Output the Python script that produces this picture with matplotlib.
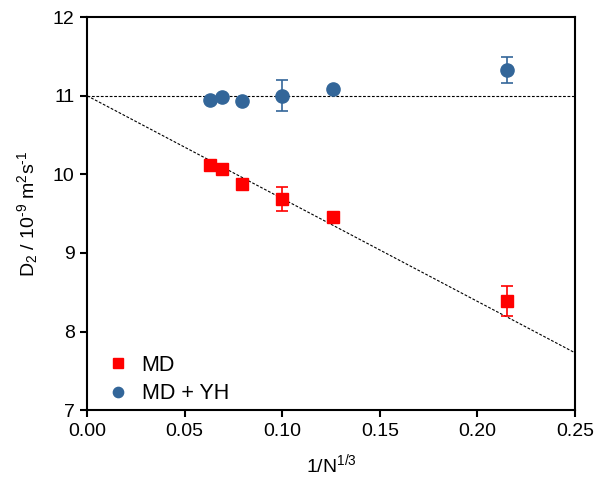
import numpy as np
import matplotlib
matplotlib.use("Agg")
import matplotlib.pyplot as plt

plt.rcParams["font.family"] = ["Liberation Sans", "DejaVu Sans"]
plt.rcParams["mathtext.fontset"] = "custom"
plt.rcParams["mathtext.rm"] = "Liberation Sans"
plt.rcParams["mathtext.it"] = "Liberation Sans:italic"
plt.rcParams["mathtext.bf"] = "Liberation Sans:bold"

# 1/N^(1/3) for the simulated box sizes
x_inv = [0.063, 0.0693, 0.0794, 0.100, 0.126, 0.2154]

# MD diffusion coefficients and errors
d_md = [10.12, 10.07, 9.88, 9.69, 9.46, 8.39]
err_md = [0.0, 0.0, 0.0, 0.155, 0.0, 0.19]

# MD + YH corrected
d_yh = [10.95, 10.98, 10.94, 11.00, 11.09, 11.33]
err_yh = [0.0, 0.0, 0.0, 0.195, 0.0, 0.165]

# extrapolation lines
d_inf = 11.0
slope_md = -13.08

red = "#ff0000"
blue = "#336699"

fig = plt.figure(figsize=(5.97, 4.78), dpi=100)
ax = fig.add_axes([0.146, 0.142, 0.817, 0.822])

xl = np.array([0.0, 0.25])
ax.plot(xl, [d_inf, d_inf], color="k", lw=0.8, ls=(0, (2.5, 1.5)), zorder=1)
ax.plot(xl, d_inf + slope_md * xl, color="k", lw=0.8, ls=(0, (2.5, 1.5)), zorder=1)

ax.errorbar(x_inv, d_md, yerr=err_md, fmt="s", color=red, ms=8.5,
            capsize=4, elinewidth=1.2, capthick=1.2, label="MD", zorder=3)
ax.errorbar(x_inv, d_yh, yerr=err_yh, fmt="o", color=blue, ms=9.5,
            capsize=4, elinewidth=1.2, capthick=1.2, label="MD + YH", zorder=3)

ax.set_xlim(0, 0.25)
ax.set_ylim(7, 12)
ax.set_xticks([0.0, 0.05, 0.10, 0.15, 0.20, 0.25])
ax.set_xticklabels(["0.00", "0.05", "0.10", "0.15", "0.20", "0.25"])
ax.set_yticks([7, 8, 9, 10, 11, 12])
ax.tick_params(labelsize=14, width=1.5, length=5, pad=4, direction="out")
for spine in ax.spines.values():
    spine.set_linewidth(1.5)

ax.set_xlabel("1/N$^{1/3}$", fontsize=14, labelpad=9)
ax.set_ylabel("D$_2$ / 10$^{\u20109}$ m$^2$s$^{\u20101}$", fontsize=14, labelpad=9)

h, l = ax.get_legend_handles_labels()
h = [hh[0] for hh in h]
leg = ax.legend(h, l, loc="lower left", bbox_to_anchor=(0.041, 0.015),
                frameon=False, fontsize=15.5, markerscale=0.78,
                handlelength=1.0, handletextpad=0.6, borderaxespad=0,
                borderpad=0, labelspacing=0.35)

fig.savefig("out.png", dpi=100)
